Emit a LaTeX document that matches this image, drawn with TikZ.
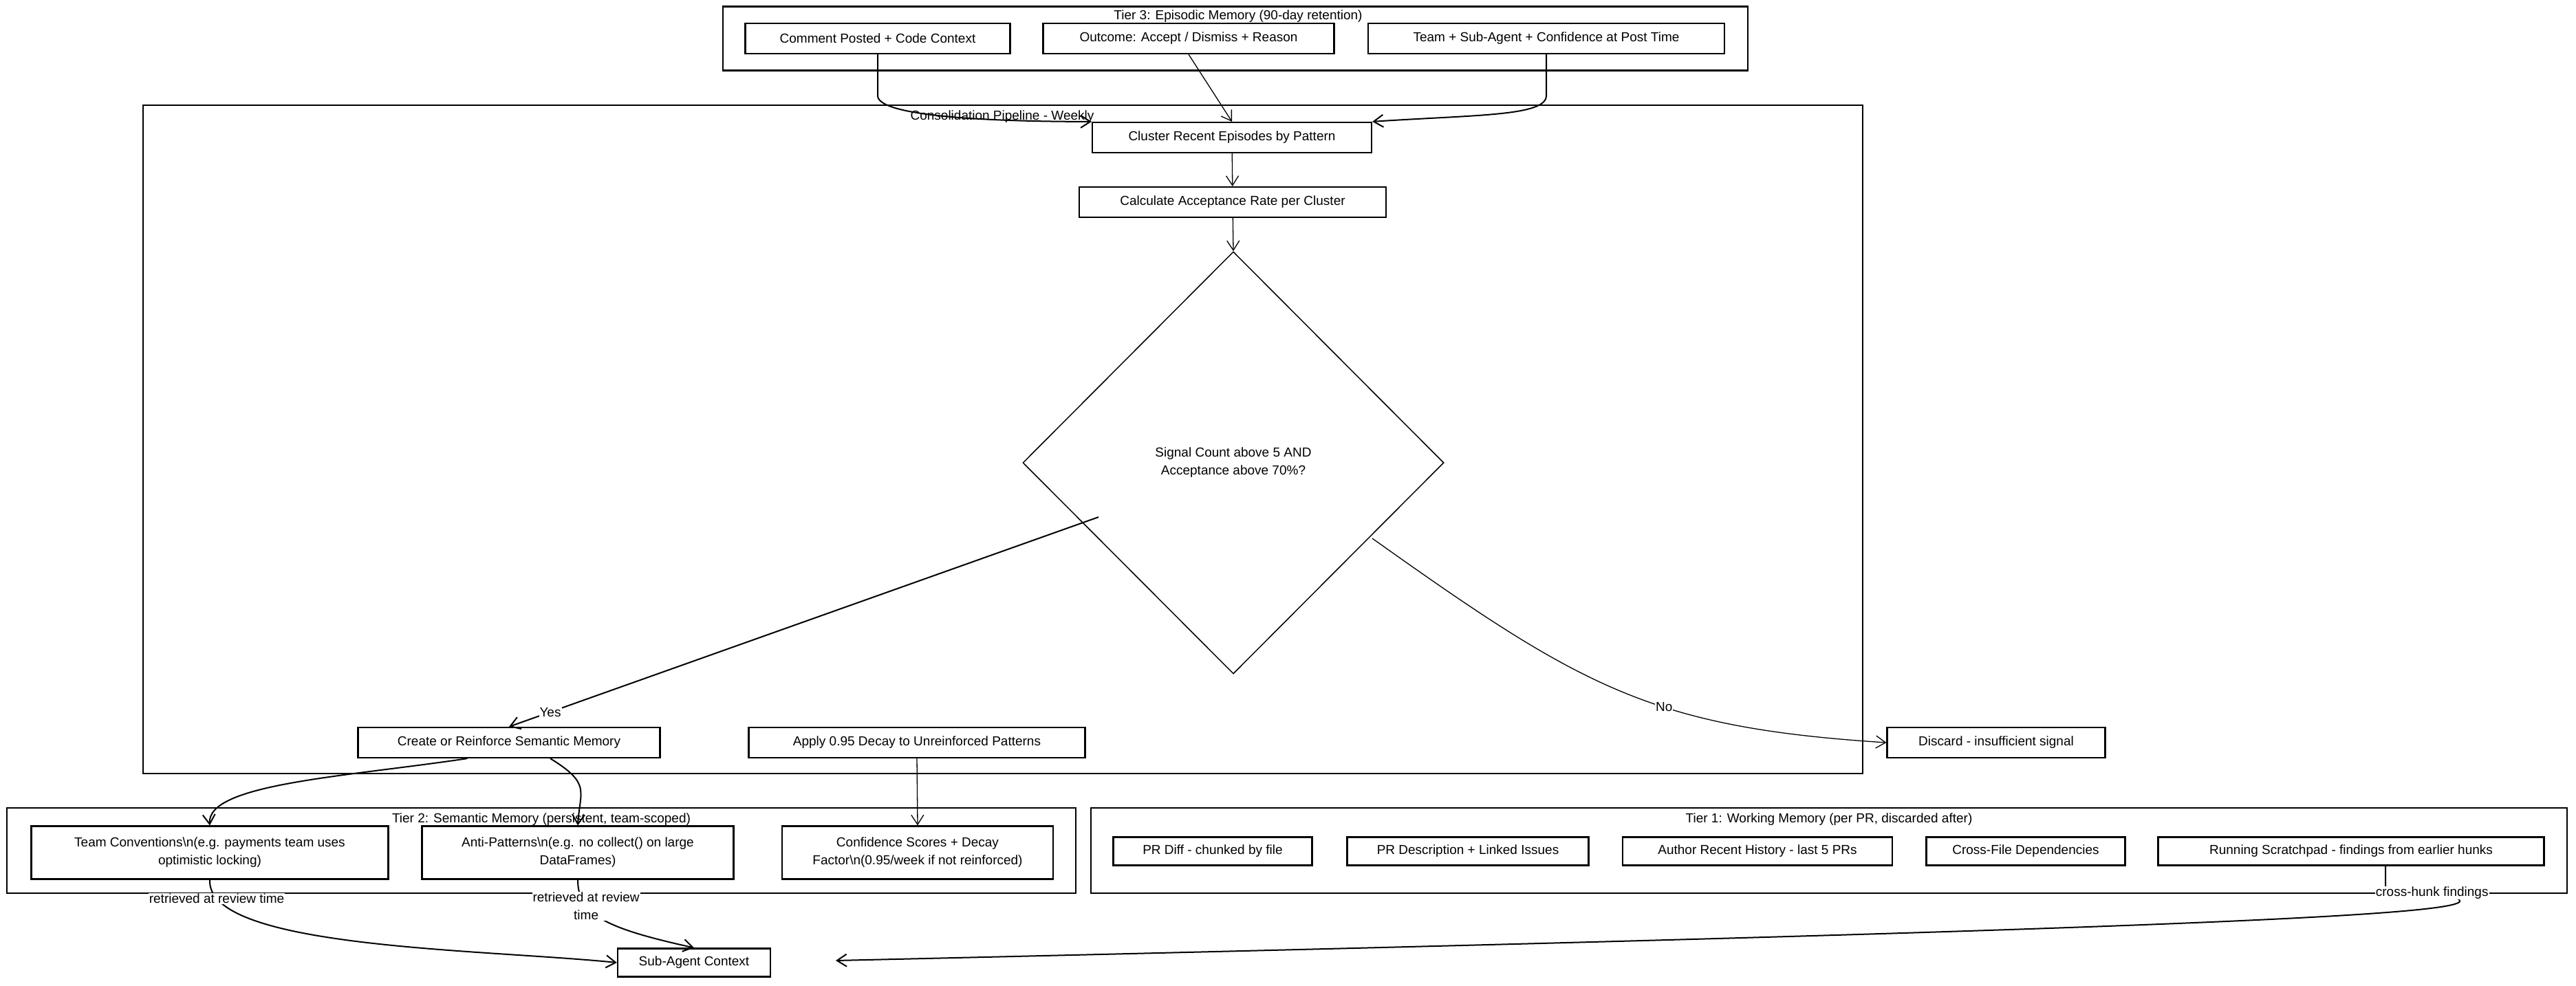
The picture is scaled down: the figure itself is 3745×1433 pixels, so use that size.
\documentclass[tikz,border=0pt]{standalone}
\usepackage{fontspec}
\setmainfont{Liberation Sans}
\usetikzlibrary{arrows.meta,shapes.geometric}
\begin{document}
\begin{tikzpicture}[x=1pt,y=-1pt,
  box/.style={draw,line width=2.2pt,minimum height=44pt,inner sep=4pt,font=\fontsize{19}{26}\selectfont,align=center},
  cont/.style={draw,line width=2.2pt},
  clabel/.style={font=\fontsize{19}{22}\selectfont},
  elabel/.style={font=\fontsize{19}{26}\selectfont,fill=white,inner sep=1pt,align=center},
  arr/.style={-{Straight Barb[length=14pt,width=18pt]},line width=2pt},
  arrt/.style={-{Straight Barb[length=14pt,width=18pt]},line width=1.3pt}]
\useasboundingbox (0,0) rectangle (3745,1433);
% containers
\node[cont,minimum width=1490pt,minimum height=93pt] (t3) at (1796,56) {};
\node[clabel] (t3l) at (1800,24) {Tier 3: Episodic Memory (90-day retention)};
\node[cont,minimum width=2500pt,minimum height=972pt] (cp) at (1458,639) {};
\node[clabel] (cpl) at (1457,170) {Consolidation Pipeline - Weekly};
\node[cont,minimum width=1554pt,minimum height=124pt] (t2) at (787,1237) {};
\node[clabel] (t2l) at (787,1192) {Tier 2: Semantic Memory (persistent, team-scoped)};
\node[cont,minimum width=2146pt,minimum height=124pt] (t1) at (2659,1237) {};
\node[clabel] (t1l) at (2659,1192) {Tier 1: Working Memory (per PR, discarded after)};
% tier 3 boxes
\node[box,minimum width=385pt] (c1) at (1276,56) {Comment Posted + Code Context};
\node[box,minimum width=423pt] (c2) at (1728,56) {Outcome: Accept / Dismiss + Reason};
\node[box,minimum width=518pt] (c3) at (2248,56) {Team + Sub-Agent + Confidence at Post Time};
% pipeline
\node[box,minimum width=406pt] (cl) at (1791,200) {Cluster Recent Episodes by Pattern};
\node[box,minimum width=446pt] (ca) at (1792,294) {Calculate Acceptance Rate per Cluster};
\node[draw,line width=1.5pt,diamond,minimum width=612pt,minimum height=614pt,inner sep=0pt,font=\fontsize{19}{26}\selectfont,align=center] (dm) at (1793,673) {Signal Count above 5 AND\\Acceptance above 70\%?};
\node[box,minimum width=439pt] (cr) at (740,1080) {Create or Reinforce Semantic Memory};
\node[box,minimum width=489pt] (ap) at (1333,1080) {Apply 0.95 Decay to Unreinforced Patterns};
\node[box,minimum width=317pt] (ds) at (2902,1080) {Discard - insufficient signal};
% tier 2 boxes
\node[box,minimum width=519pt,minimum height=77pt] (tc) at (305,1240) {Team Conventions\textbackslash n(e.g. payments team uses\\optimistic locking)};
\node[box,minimum width=453pt,minimum height=77pt] (anti) at (840,1240) {Anti-Patterns\textbackslash n(e.g. no collect() on large\\DataFrames)};
\node[box,minimum width=394pt,minimum height=77pt] (cs) at (1334,1240) {Confidence Scores + Decay\\Factor\textbackslash n(0.95/week if not reinforced)};
% tier 1 boxes
\node[box,minimum width=289pt,minimum height=41pt] (w1) at (1763,1238) {PR Diff - chunked by file};
\node[box,minimum width=351pt,minimum height=41pt] (w2) at (2134,1238) {PR Description + Linked Issues};
\node[box,minimum width=392pt,minimum height=41pt] (w3) at (2555,1238) {Author Recent History - last 5 PRs};
\node[box,minimum width=289pt,minimum height=41pt] (w4) at (2945,1238) {Cross-File Dependencies};
\node[box,minimum width=561pt,minimum height=41pt] (w5) at (3418,1238) {Running Scratchpad - findings from earlier hunks};
\node[box,minimum width=222pt,minimum height=41pt] (sa) at (1009,1400) {Sub-Agent Context};
% edges
\draw[arr] (c1.south) -- ++(0,60) .. controls +(0,30) and +(-150,0) .. (cl.north west);
\draw[arrt] (c2.south) -- (cl.north);
\draw[arr] (c3.south) -- ++(0,60) .. controls +(0,30) and +(150,-10) .. (cl.north east);
\draw[arrt] (cl) -- (ca);
\draw[arrt] (ca) -- (dm.north);
\draw[arr] (1597,752) -- node[elabel,pos=0.93]{Yes} (cr.north);
\draw[arrt] (1995,783) .. controls (2300,1000) and (2400,1058) .. node[elabel,pos=0.6]{No} (ds.west);
\draw[arr] (cr.south west) ++(160,0) .. controls (500,1130) and (300,1140) .. (tc.north);
\draw[arr] (cr.south) ++(60,0) .. controls (860,1140) and (843,1150) .. (anti.north);
\draw[arrt] (ap.south) -- (cs.north);
\draw[arr] (tc.south) .. controls (300,1380) and (700,1380) .. node[elabel,pos=0.1]{retrieved at review time} (sa.west);
\draw[arr] (anti.south) .. controls (840,1330) and (880,1350) .. node[elabel,pos=0.3]{retrieved at review\\time} (sa.north);
\draw[arr] (w5.south) ++(50,0) -- ++(0,30) .. controls (3730,1320) and (3700,1340) .. node[elabel,pos=0.1]{cross-hunk findings} (1215,1397);
\end{tikzpicture}
\end{document}
